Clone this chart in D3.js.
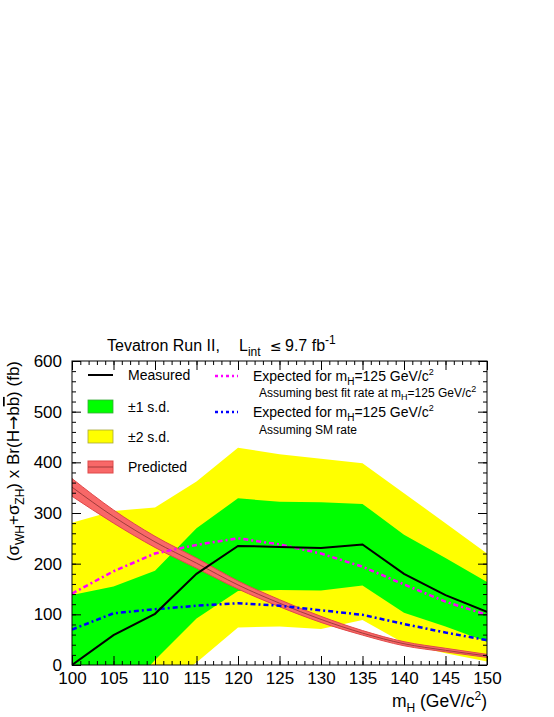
<!DOCTYPE html>
<html>
<head>
<meta charset="utf-8">
<script src="https://cdn.jsdelivr.net/npm/d3@7"></script>
<style>
  body { margin: 0; background: #fff; }
  svg { display: block; font-family: "Liberation Sans", Arial, Helvetica, sans-serif; }
</style>
</head>
<body>
<div id="main-vis"></div>
<script>
// Higgs mass points (GeV/c^2)
const mass = [100, 105, 110, 115, 120, 125, 130, 135, 140, 145, 150]

// measured cross section x BR (fb)
const measured = [0, 59, 101, 180, 235, 233, 231, 238, 180, 138, 105]

// expected for mH=125, best fit rate / SM rate
const expBestFit = [141, 185, 220, 237, 250, 238, 220, 194, 159, 125, 99]
const expSM = [70, 102, 110, 117, 122, 117, 108, 99, 81, 64, 49]

// +-1 and +-2 s.d. bands
const band1Low = [-120, -80, 10, 92, 146, 148, 147, 157, 103, 76, 46]
const band1High = [138, 155, 186, 270, 329, 322, 321, 318, 257, 211, 164]
const band2Low = [-250, -160, -57, 5, 74, 76, 71, 89, 43, 23, 7]
const band2High = [281, 304, 311, 362, 429, 416, 407, 398, 339, 280, 220]

// SM prediction with its uncertainty
const predicted = [351, 293, 243, 201, 158, 122, 90, 63, 42, 29, 18]
const predLow = [333, 280, 232, 191, 150, 115, 84, 59, 38, 26, 15]
const predHigh = [368, 306, 254, 211, 166, 129, 96, 68, 46, 33, 21]

const xTicks = [100, 105, 110, 115, 120, 125, 130, 135, 140, 145, 150]
const yTicks = [0, 100, 200, 300, 400, 500, 600]

window.onload = setup

function setup () {
    const W = 554, H = 717
    const left = 72, right = 487, top = 361, bottom = 665

    const svg = d3.create('svg')
        .attr('width', W)
        .attr('height', H)

    const x = d3.scaleLinear().domain([100, 150]).range([left, right])
    const y = d3.scaleLinear().domain([0, 600]).range([bottom, top])

    svg.append('defs').append('clipPath').attr('id', 'frame')
        .append('rect')
        .attr('x', left).attr('y', top)
        .attr('width', right - left).attr('height', bottom - top)

    const rows = mass.map((m, i) => ({
        m,
        meas: measured[i], bf: expBestFit[i], sm: expSM[i],
        l1: band1Low[i], h1: band1High[i], l2: band2Low[i], h2: band2High[i],
        p: predicted[i], pl: predLow[i], ph: predHigh[i]
    }))

    const plot = svg.append('g').attr('clip-path', 'url(#frame)')

    const band = (lo, hi) => d3.area()
        .x(d => x(d.m)).y0(d => y(d[lo])).y1(d => y(d[hi]))

    plot.append('path').datum(rows).attr('d', band('l2', 'h2')).attr('fill', '#ffff00')
    plot.append('path').datum(rows).attr('d', band('l1', 'h1')).attr('fill', '#00ff00')

    // predicted band, smooth
    plot.append('path').datum(rows)
        .attr('d', band('pl', 'ph').curve(d3.curveMonotoneX))
        .attr('fill', '#f86868')
        .attr('stroke', '#e04848')
        .attr('stroke-width', 1)
    plot.append('path').datum(rows)
        .attr('d', d3.line().x(d => x(d.m)).y(d => y(d.p)).curve(d3.curveMonotoneX))
        .attr('fill', 'none')
        .attr('stroke', '#8a3030')
        .attr('stroke-width', 0.8)

    const line = key => d3.line().x(d => x(d.m)).y(d => y(d[key]))

    plot.append('path').datum(rows).attr('d', line('bf'))
        .attr('fill', 'none').attr('stroke', '#ff00ff')
        .attr('stroke-width', 2.5).attr('stroke-dasharray', '5,3,2,3')
    plot.append('path').datum(rows).attr('d', line('sm'))
        .attr('fill', 'none').attr('stroke', '#0000ff')
        .attr('stroke-width', 2.5).attr('stroke-dasharray', '5,3,2,3')
    plot.append('path').datum(rows).attr('d', line('meas'))
        .attr('fill', 'none').attr('stroke', '#000')
        .attr('stroke-width', 2)

    // axes, ROOT style ticks inside the frame
    const axisStyle = g => {
        g.select('.domain').remove()
        g.selectAll('line').attr('stroke', '#000')
        g.selectAll('text').attr('font-size', 17).attr('fill', '#000')
            .attr('font-family', '"Liberation Sans", Arial, sans-serif')
    }

    svg.append('g').attr('transform', `translate(0,${bottom})`)
        .call(d3.axisBottom(x).tickValues(d3.range(100, 151, 1)).tickFormat('').tickSize(-4))
        .call(axisStyle)
    svg.append('g').attr('transform', `translate(0,${bottom})`)
        .call(d3.axisBottom(x).tickValues(xTicks).tickFormat(d3.format('d')).tickSize(-9).tickPadding(7))
        .call(axisStyle)
    svg.append('g').attr('transform', `translate(0,${top})`)
        .call(d3.axisTop(x).tickValues(d3.range(100, 151, 1)).tickFormat('').tickSize(-4))
        .call(axisStyle)
    svg.append('g').attr('transform', `translate(0,${top})`)
        .call(d3.axisTop(x).tickValues(xTicks).tickFormat('').tickSize(-9))
        .call(axisStyle)

    svg.append('g').attr('transform', `translate(${left},0)`)
        .call(d3.axisLeft(y).tickValues(d3.range(0, 601, 20)).tickFormat('').tickSize(-4))
        .call(axisStyle)
    svg.append('g').attr('transform', `translate(${left},0)`)
        .call(d3.axisLeft(y).tickValues(yTicks).tickFormat(d3.format('d')).tickSize(-9).tickPadding(10))
        .call(axisStyle)
    svg.append('g').attr('transform', `translate(${right},0)`)
        .call(d3.axisRight(y).tickValues(d3.range(0, 601, 20)).tickFormat('').tickSize(-4))
        .call(axisStyle)
    svg.append('g').attr('transform', `translate(${right},0)`)
        .call(d3.axisRight(y).tickValues(yTicks).tickFormat('').tickSize(-9))
        .call(axisStyle)

    svg.append('rect')
        .attr('x', left).attr('y', top)
        .attr('width', right - left).attr('height', bottom - top)
        .attr('fill', 'none').attr('stroke', '#000').attr('stroke-width', 1)

    // title
    const title = svg.append('text').attr('y', 351).attr('font-size', 16)
    title.append('tspan').attr('x', 107).text('Tevatron Run II,')
    title.append('tspan').attr('x', 239).text('L')
    title.append('tspan').attr('font-size', 12).attr('dy', 5).text('int')
    title.append('tspan').attr('x', 270).attr('dy', -5)
        .attr('font-family', '"DejaVu Sans", sans-serif').attr('font-size', 14).text('\u2264')
    title.append('tspan').attr('x', 285).text('9.7 fb')
    title.append('tspan').attr('font-size', 12).attr('dy', -7).text('-1')

    // x axis title
    const xt = svg.append('text').attr('x', right).attr('y', 707)
        .attr('text-anchor', 'end').attr('font-size', 17.5)
    xt.append('tspan').text('m')
    xt.append('tspan').attr('font-size', 12).attr('dy', 5).text('H')
    xt.append('tspan').attr('dy', -5).text(' (GeV/c')
    xt.append('tspan').attr('font-size', 12).attr('dy', -7).text('2')
    xt.append('tspan').attr('dy', 7).text(')')

    // y axis title
    const yt = svg.append('text')
        .attr('transform', `translate(19,${top}) rotate(-90)`)
        .attr('text-anchor', 'end').attr('font-size', 17)
    yt.append('tspan').text('(\u03c3')
    yt.append('tspan').attr('font-size', 12).attr('dy', 5).text('WH')
    yt.append('tspan').attr('dy', -5).text('+\u03c3')
    yt.append('tspan').attr('font-size', 12).attr('dy', 5).text('ZH')
    yt.append('tspan').attr('dy', -5).text(') x Br(H')
    yt.append('tspan').attr('font-family', '"DejaVu Sans", sans-serif').text('\u2192')
    yt.append('tspan').text('b')
    yt.append('tspan').style('text-decoration', 'overline').text('b')
    yt.append('tspan').text(') (fb)')

    // legend, left column
    const lg = svg.append('g').attr('font-size', 14)
    lg.append('line').attr('x1', 88).attr('x2', 113).attr('y1', 375).attr('y2', 375)
        .attr('stroke', '#000').attr('stroke-width', 2)
    lg.append('rect').attr('x', 88).attr('y', 400).attr('width', 25).attr('height', 13)
        .attr('fill', '#00ff00').attr('stroke', '#3aa83a').attr('stroke-width', 0.8)
    lg.append('rect').attr('x', 88).attr('y', 430).attr('width', 25).attr('height', 13)
        .attr('fill', '#ffff00').attr('stroke', '#a8a838').attr('stroke-width', 0.8)
    lg.append('rect').attr('x', 88).attr('y', 461).attr('width', 25).attr('height', 12)
        .attr('fill', '#f86868').attr('stroke', '#e04848').attr('stroke-width', 1)
    lg.append('line').attr('x1', 88).attr('x2', 113).attr('y1', 467).attr('y2', 467)
        .attr('stroke', '#8a3030').attr('stroke-width', 0.8)

    const leftLabels = [['Measured', 375], ['\u00b11 s.d.', 407], ['\u00b12 s.d.', 437], ['Predicted', 467]]
    leftLabels.forEach(([t, yy]) => {
        lg.append('text').attr('x', 128).attr('y', yy + 5).text(t)
    })

    // legend, right column
    lg.append('line').attr('x1', 215).attr('x2', 238).attr('y1', 376).attr('y2', 376)
        .attr('stroke', '#ff00ff').attr('stroke-width', 2.5).attr('stroke-dasharray', '3,3,2,3')
    lg.append('line').attr('x1', 215).attr('x2', 238).attr('y1', 412).attr('y2', 412)
        .attr('stroke', '#0000ff').attr('stroke-width', 2.5).attr('stroke-dasharray', '3,3,2,3')

    const expText = (yy) => {
        const t = lg.append('text').attr('x', 253).attr('y', yy)
        t.append('tspan').text('Expected for m')
        t.append('tspan').attr('font-size', 10).attr('dy', 4).text('H')
        t.append('tspan').attr('dy', -4).text('=125 GeV/c')
        t.append('tspan').attr('font-size', 9).attr('dy', -6).text('2')
    }
    expText(381)
    expText(417)

    const sub1 = lg.append('text').attr('x', 259).attr('y', 397).attr('font-size', 12)
    sub1.append('tspan').text('Assuming best fit rate at m')
    sub1.append('tspan').attr('font-size', 9).attr('dy', 3).text('H')
    sub1.append('tspan').attr('dy', -3).text('=125 GeV/c')
    sub1.append('tspan').attr('font-size', 9).attr('dy', -5).text('2')

    lg.append('text').attr('x', 259).attr('y', 434).attr('font-size', 12).text('Assuming SM rate')

    document.querySelector('#main-vis').appendChild(svg.node())
}
</script>
</body>
</html>
